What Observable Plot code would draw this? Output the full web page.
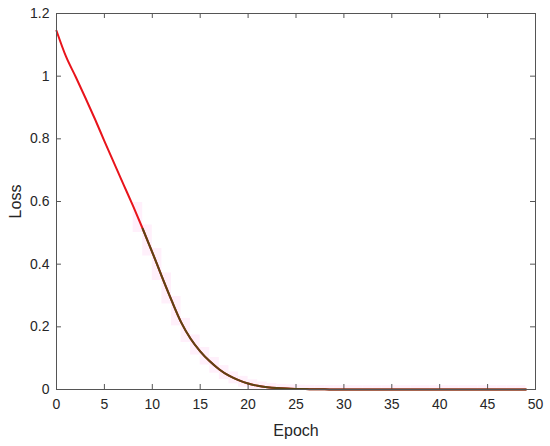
<!DOCTYPE html>
<html>
<head>
<meta charset="utf-8">
<script src="https://cdn.jsdelivr.net/npm/d3@7"></script>
<script src="https://cdn.jsdelivr.net/npm/@observablehq/plot@0.6"></script>
<style>
  html, body { margin: 0; padding: 0; background: #fff; }
  #chart { width: 550px; height: 446px; }
</style>
</head>
<body>
<div id="chart"></div>
<script>
const epochs = d3.range(0, 50);
const trainLoss = [1.145, 1.062, 0.998, 0.932, 0.864, 0.793, 0.723, 0.654, 0.585, 0.513,
  0.438, 0.36, 0.285, 0.215, 0.162, 0.122, 0.09, 0.064, 0.044, 0.03,
  0.019, 0.012, 0.0075, 0.0045, 0.0028, 0.0018, 0.0012, 0.0008, 0.0005, 0.0003,
  0.0002, 0.0001, 0.0001, 0.0001, 0.0001, 0.0, 0.0, 0.0, 0.0, 0.0,
  0.0, 0.0, 0.0, 0.0, 0.0, 0.0, 0.0, 0.0, 0.0, 0.0];
const valStart = 9; // second series drawn from this epoch
const xTicks = [0, 5, 10, 15, 20, 25, 30, 35, 40, 45, 50];
const yTicks = [0, 0.2, 0.4, 0.6, 0.8, 1, 1.2];
const xLabel = "Epoch";
const yLabel = "Loss";

const train = epochs.map((e, i) => ({epoch: e, loss: trainLoss[i]}));
const val = train.filter(d => d.epoch >= valStart - 0.3);
const band = epochs.slice(8, 49).map(e => ({
  x1: e, x2: e + 1,
  y1: Math.max(0, trainLoss[e + 1] - 0.012),
  y2: trainLoss[e] + 0.012
}));

const axisColor = "#555";
const chart = Plot.plot({
  width: 550,
  height: 446,
  marginLeft: 56,
  marginRight: 15,
  marginTop: 13,
  marginBottom: 57,
  style: {fontFamily: "'Liberation Sans', Arial, sans-serif", fontSize: "14px", color: "#262626", background: "#fff"},
  x: {domain: [0, 50], ticks: xTicks, tickFormat: d => String(d), label: null},
  y: {domain: [0, 1.2], ticks: yTicks, tickFormat: d => String(d), label: null},
  marks: [
    Plot.rect(band, {x1: "x1", x2: "x2", y1: "y1", y2: "y2", fill: "#fff0fb", stroke: "none"}),
    Plot.axisX({ticks: xTicks, tickSize: 0, tickPadding: 10, tickFormat: d => String(d), fontSize: 14, label: null}),
    Plot.axisY({ticks: yTicks, tickSize: 0, tickPadding: 7, tickFormat: d => String(d), fontSize: 14, label: null}),
    Plot.ruleX(xTicks, {x: d => d, y1: 0, y2: 0.016, stroke: axisColor, strokeWidth: 1}),
    Plot.ruleX(xTicks, {x: d => d, y1: 1.2 - 0.016, y2: 1.2, stroke: axisColor, strokeWidth: 1}),
    Plot.ruleY(yTicks, {y: d => d, x1: 0, x2: 0.52, stroke: axisColor, strokeWidth: 1}),
    Plot.ruleY(yTicks, {y: d => d, x1: 50 - 0.52, x2: 50, stroke: axisColor, strokeWidth: 1}),
    Plot.line(train, {x: "epoch", y: "loss", stroke: "#e8141b", strokeWidth: 2, curve: "monotone-x"}),
    Plot.line(val, {x: "epoch", y: "loss", stroke: "#5c4414", strokeWidth: 2, curve: "monotone-x"}),
    Plot.frame({stroke: axisColor, strokeWidth: 1}),
    Plot.text([xLabel], {frameAnchor: "bottom", dy: 46, text: d => d, fontSize: 16, fill: "#262626", textAnchor: "middle"}),
    Plot.text([yLabel], {frameAnchor: "left", dx: -41, rotate: -90, text: d => d, fontSize: 16, fill: "#262626", textAnchor: "middle"})
  ]
});
document.getElementById("chart").appendChild(chart);
</script>
</body>
</html>
